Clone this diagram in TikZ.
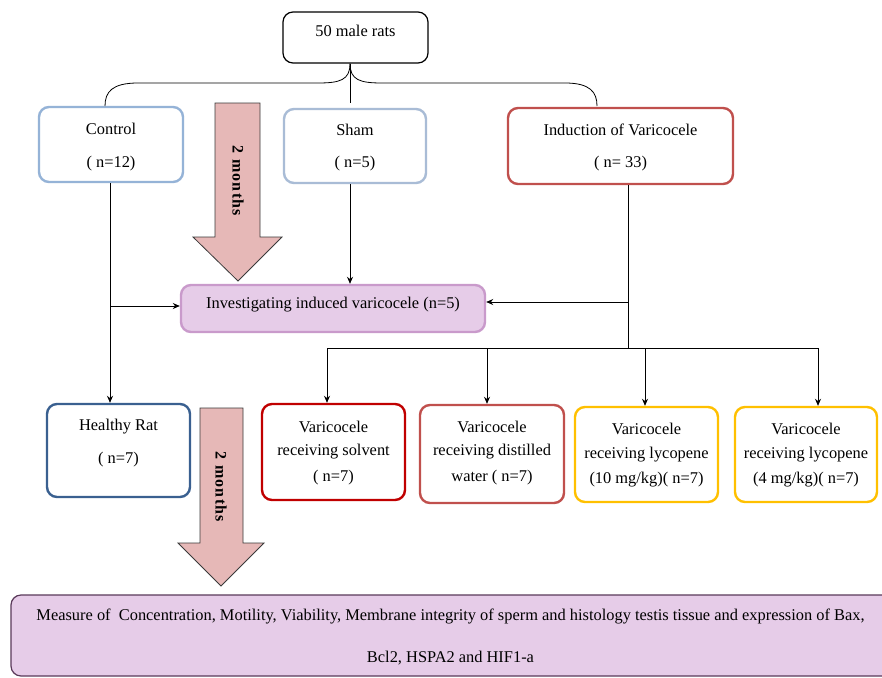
\documentclass[tikz,border=0pt]{standalone}
\usepackage{fontspec}
\setmainfont{Liberation Serif}
\usetikzlibrary{arrows.meta}
\definecolor{ctrlc}{HTML}{95B3D7}
\definecolor{shamc}{HTML}{A9BCD6}
\definecolor{indc}{HTML}{C0504D}
\definecolor{healc}{HTML}{3A6090}
\definecolor{solvc}{HTML}{C00000}
\definecolor{lycc}{HTML}{FFC000}
\definecolor{invfill}{HTML}{E6CCE8}
\definecolor{invdraw}{HTML}{C99ACB}
\definecolor{botdraw}{HTML}{5A3A5A}
\definecolor{arrfill}{HTML}{E6B8B7}
\definecolor{arrdraw}{HTML}{3A3A3A}
\begin{document}
\begin{tikzpicture}[x=1pt,y=-1pt,
  box/.style={draw, rounded corners=10pt, line width=2.4pt, inner sep=0pt},
  txt/.style={inner sep=0pt, font=\fontsize{16.4}{19}\selectfont},
  conn/.style={draw=black, line width=0.8pt},
  arr/.style={conn, -{Stealth[length=7pt,width=6pt]}},
  bigarrow/.style={draw=arrdraw, fill=arrfill, line width=0.8pt, line join=miter},
  mlabel/.style={inner sep=0pt, rotate=-90, font=\fontsize{16}{19}\selectfont\bfseries\addfontfeature{LetterSpace=8}}
]
\clip (0,0) rectangle (882,677);
\useasboundingbox (0,0) rectangle (882,677);
\fill[white] (0,0) rectangle (882,677);

% top box
\node[box, draw=black, line width=1.2pt, minimum width=145pt, minimum height=51pt] (rats) at (355.5,37.5) {};
\node[txt] (ratst) at (355.5,31) {50 male rats};

% second row
\node[box, draw=ctrlc, minimum width=144pt, minimum height=75pt] (control) at (111,144.5) {};
\node[txt] (controlA) at (111,129) {Control};
\node[txt] (controlB) at (111,164) {( n=12)};

\node[box, draw=shamc, minimum width=142pt, minimum height=74pt] (sham) at (355,146) {};
\node[txt] (shamA) at (355,130) {Sham};
\node[txt] (shamB) at (355,164) {( n=5)};

\node[box, draw=indc, minimum width=225pt, minimum height=76pt] (ind) at (620.5,146) {};
\node[txt] (indA) at (620.5,130) {Induction of Varicocele};
\node[txt] (indB) at (620.5,164) {( n= 33)};

% brace
\coordinate (bl) at (105,106);
\coordinate (bm) at (350,103);
\coordinate (br) at (597,106);
\draw[conn] ([xshift=-5.5pt]rats.south) .. controls (350,80) and (340,83) .. (318,83) -- (138,83) .. controls (112,83) and (105,92) .. (bl);
\draw[conn] ([xshift=-5.5pt]rats.south) .. controls (350,80) and (360,83) .. (382,83) -- (565,83) .. controls (590,83) and (597,92) .. (br);
\draw[conn] ([xshift=-5.5pt]rats.south) -- (bm);

% first 2-months arrow
\draw[bigarrow] (215,103) -- (260,103) -- (260,237) -- (282,237) -- (238,281) -- (193,237) -- (215,237) -- cycle;
\node[mlabel] (m1) at (238,181) {2 months};

% investigating
\node[box, draw=invdraw, fill=invfill, minimum width=304pt, minimum height=47pt] (inv) at (333,308.5) {};
\node[txt] (invt) at (333,305) {Investigating induced varicocele (n=5)};

% third row
\node[box, draw=healc, minimum width=143pt, minimum height=93pt] (heal) at (118.5,450.5) {};
\node[txt] (healA) at (118.5,427) {Healthy Rat};
\node[txt] (healB) at (118.5,460) {( n=7)};

\node[box, draw=solvc, minimum width=143pt, minimum height=96pt] (solv) at (333.5,452) {};
\node[txt] (solvA) at (333.5,427) {Varicocele};
\node[txt] (solvB) at (333.5,452) {receiving solvent};
\node[txt] (solvC) at (333.5,478) {( n=7)};

\node[box, draw=indc, minimum width=144pt, minimum height=98pt] (dist) at (492,454) {};
\node[txt] (distA) at (492,427) {Varicocele};
\node[txt] (distB) at (492,452) {receiving distilled};
\node[txt] (distC) at (492,478) {water ( n=7)};

\node[box, draw=lycc, minimum width=143pt, minimum height=95pt] (lyca) at (646.5,454.5) {};
\node[txt] (lycaA) at (646.5,429) {Varicocele};
\node[txt] (lycaB) at (646.5,455) {receiving lycopene};
\node[txt] (lycaC) at (646.5,480) {(10 mg/kg)( n=7)};

\node[box, draw=lycc, minimum width=142pt, minimum height=95pt] (lycb) at (806,454.5) {};
\node[txt] (lycbA) at (806,429) {Varicocele};
\node[txt] (lycbB) at (806,455) {receiving lycopene};
\node[txt] (lycbC) at (806,480) {(4 mg/kg)( n=7)};

% connectors
\coordinate (cl) at (110,306);
\draw[arr] ([xshift=-1pt]control.south) -- ([xshift=-1pt]control.south |- heal.north);
\draw[arr] (cl) -- (inv.west |- cl);
\draw[arr] ([xshift=-5pt]sham.south) -- ([xshift=-5pt]sham.south |- inv.north);
\coordinate (split) at (628,348);
\coordinate (ir) at (628,302);
\draw[conn] ([xshift=7.5pt]ind.south) -- (split);
\draw[arr] (ir) -- (inv.east |- ir);
\coordinate (b1) at (327,348);
\coordinate (b2) at (487,348);
\coordinate (b3) at (645,348);
\coordinate (b4) at (818,348);
\draw[conn] (b1) -- (b4);
\draw[arr] (b1) -- (b1 |- solv.north);
\draw[arr] (b2) -- (b2 |- dist.north);
\draw[arr] (b3) -- (b3 |- lyca.north);
\draw[arr] (b4) -- (b4 |- lycb.north);

% second 2-months arrow
\draw[bigarrow] (200,408) -- (243,408) -- (243,543) -- (264,543) -- (221,586) -- (178,543) -- (200,543) -- cycle;
\node[mlabel] (m2) at (221,487) {2 months};

% bottom box
\node[box, draw=botdraw, fill=invfill, line width=1.2pt, minimum width=900pt, minimum height=81pt] (bot) at (461,635.5) {};
\node[txt] (botA) at (450.5,616) {Measure of~ Concentration, Motility, Viability, Membrane integrity of sperm and histology testis tissue and expression of Bax,};
\node[txt] (botB) at (450.5,658) {Bcl2, HSPA2 and HIF1-a};
\end{tikzpicture}
\end{document}
